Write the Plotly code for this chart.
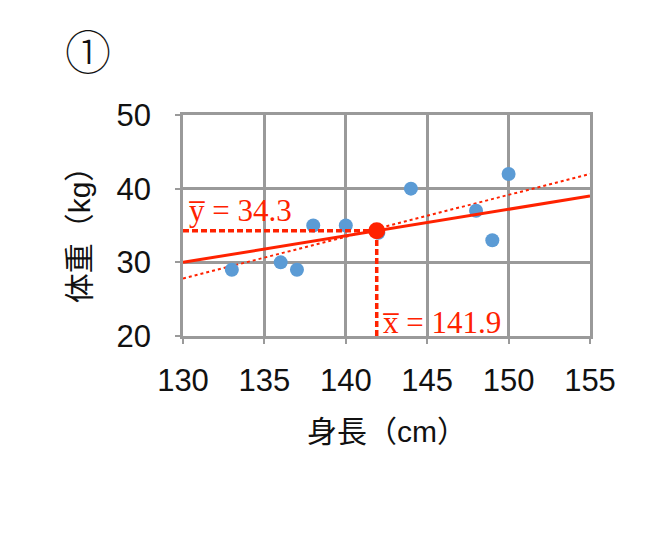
import plotly.graph_objects as go

# data
height_cm = [133, 136, 137, 138, 140, 142, 144, 148, 149, 150]
weight_kg = [29, 30, 29, 35, 35, 34, 40, 37, 33, 42]
mean_x = 141.9
mean_y = 34.3
line_x = [130, 155]
fit_solid = [30.0, 39.0]
fit_dotted = [27.8, 42.0]
x_ticks = [130, 135, 140, 145, 150, 155]
y_ticks = [20, 30, 40, 50]

RED = "#FF2200"
BLUE = "#5B9BD5"
GRID = "#9a9a9a"

fig = go.Figure()
fig.add_trace(go.Scatter(x=line_x, y=fit_dotted, mode="lines",
                         line=dict(color=RED, width=2, dash="dot"), hoverinfo="skip"))
fig.add_trace(go.Scatter(x=height_cm, y=weight_kg, mode="markers",
                         marker=dict(color=BLUE, size=14), hoverinfo="skip"))
fig.add_trace(go.Scatter(x=line_x, y=fit_solid, mode="lines",
                         line=dict(color=RED, width=3), hoverinfo="skip"))
fig.add_trace(go.Scatter(x=[line_x[0], mean_x], y=[mean_y, mean_y], mode="lines",
                         line=dict(color=RED, width=3.5, dash="6px,3px"), hoverinfo="skip"))
fig.add_trace(go.Scatter(x=[mean_x, mean_x], y=[y_ticks[0], mean_y], mode="lines",
                         line=dict(color=RED, width=3.5, dash="6px,3px"), hoverinfo="skip"))
fig.add_trace(go.Scatter(x=[mean_x], y=[mean_y], mode="markers",
                         marker=dict(color=RED, size=17), hoverinfo="skip"))

axis_common = dict(showgrid=True, gridcolor=GRID, gridwidth=2.5,
                   showline=True, linecolor=GRID, linewidth=2.5, mirror=True,
                   ticks="outside", ticklen=5, tickcolor=GRID, tickwidth=2,
                   zeroline=False,
                   tickfont=dict(family="Liberation Sans, Arial", size=31, color="#111111"))

fig.update_layout(
    width=671, height=556,
    margin=dict(l=175, r=89, t=107, b=228),
    paper_bgcolor="white", plot_bgcolor="white",
    showlegend=False,
    xaxis=dict(range=[130, 155], tickvals=x_ticks, ticklabelstandoff=10, **axis_common),
    yaxis=dict(range=[20, 50], tickvals=y_ticks, ticklabelstandoff=18, **axis_common),
    annotations=[
        dict(text="身長（cm）", xref="paper", yref="paper", x=0.50, y=-0.434,
             showarrow=False, xanchor="center", yanchor="middle",
             font=dict(family="Liberation Sans, Noto Sans CJK JP", size=30, color="#111111")),
        dict(text="体重（kg）", xref="paper", yref="paper", x=-0.254, y=0.49,
             showarrow=False, xanchor="center", yanchor="middle", textangle=-90,
             font=dict(family="Liberation Sans, Noto Sans CJK JP", size=30, color="#111111")),
        dict(text="①", xref="paper", yref="paper", x=-0.233, y=1.3,
             showarrow=False, xanchor="center", yanchor="middle",
             font=dict(family="Noto Sans CJK JP", size=46, color="#111111", weight=200)),
        dict(text="y\u0305 = 34.3", xref="x", yref="y", x=130.25, y=37.1,
             showarrow=False, xanchor="left", yanchor="middle",
             font=dict(family="Liberation Serif, Times New Roman", size=31, color=RED)),
        dict(text="x\u0305 = 141.9", xref="x", yref="y", x=142.15, y=21.9,
             showarrow=False, xanchor="left", yanchor="middle",
             font=dict(family="Liberation Serif, Times New Roman", size=31, color=RED)),
    ],
)

fig.write_html("out.html")
